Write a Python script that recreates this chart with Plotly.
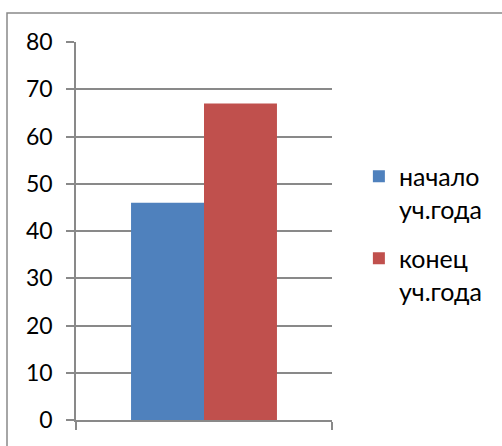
import plotly.graph_objects as go

# Data
categories = [""]
series_names = ["начало<br>уч.года", "конец<br>уч.года"]
series_values = [[46], [67]]
series_colors = ["#4F81BD", "#C0504D"]
y_ticks = [0, 10, 20, 30, 40, 50, 60, 70, 80]

W, H = 502, 446
grid = "#898989"
font_family = "Lato, 'Open Sans', sans-serif"

fig = go.Figure()
for i, (name, vals, col) in enumerate(zip(series_names, series_values, series_colors)):
    fig.add_trace(go.Bar(x=categories, y=vals, name=name, legendgroup=f"g{i}",
                         marker=dict(color=col, line=dict(width=0))))

fig.update_layout(
    width=W, height=H,
    margin=dict(l=76, r=170, t=42, b=26),
    paper_bgcolor="white", plot_bgcolor="white",
    barmode="group", bargap=0.43, bargroupgap=0,
    font=dict(family=font_family, size=23, color="black"),
    showlegend=True,
    legend=dict(x=1.105, y=0.705, xanchor="left", yanchor="top",
                font=dict(size=25), valign="top",
                tracegroupgap=14, itemwidth=30,
                bgcolor="rgba(0,0,0,0)"),
    xaxis=dict(showticklabels=False, ticks="outside", tickson="boundaries",
               ticklen=8, tickcolor=grid, tickwidth=1.5,
               showline=True, linecolor=grid, linewidth=1.5,
               showgrid=False, zeroline=False),
    yaxis=dict(range=[0, 80], tickvals=y_ticks, ticks="outside", ticklen=8,
               tickcolor=grid, tickwidth=1.5,
               showline=True, linecolor=grid, linewidth=1.5,
               showgrid=True, gridcolor=grid, gridwidth=1.5,
               zeroline=False, ticklabelstandoff=9),
)

# Chart-area frame
fig.add_shape(type="rect", xref="paper", yref="paper",
              x0=(7 - 76) / 256, x1=2.0, y0=-1.0, y1=(420 - 13) / 378,
              line=dict(color=grid, width=1.5), layer="below")

fig.write_html("out.html")
